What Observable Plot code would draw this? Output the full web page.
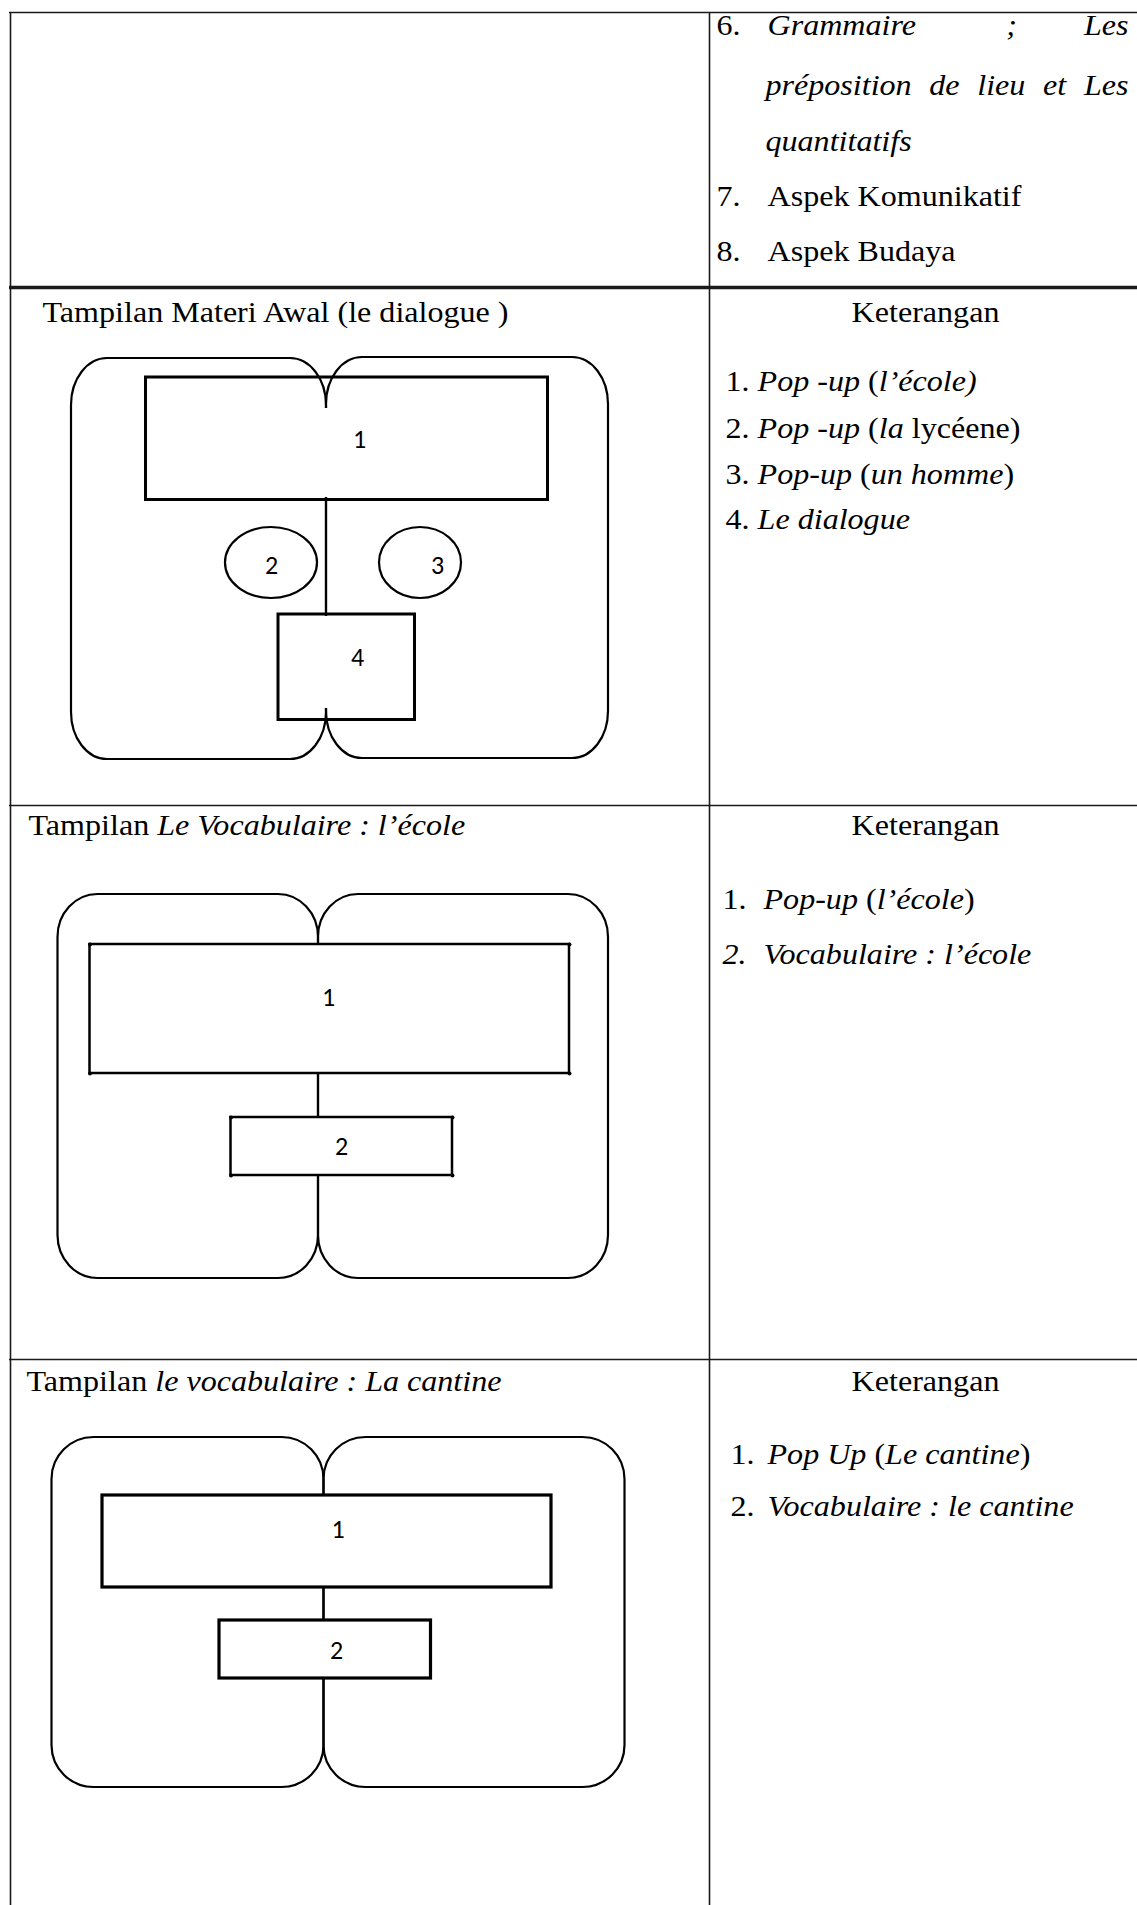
<!DOCTYPE html>
<html>
<head>
<meta charset="utf-8">
<script src="https://cdn.jsdelivr.net/npm/d3@7"></script>
<script src="https://cdn.jsdelivr.net/npm/@observablehq/plot@0.6"></script>
<style>
  html, body { margin: 0; padding: 0; background: #fff; }
  #chart svg { display: block; }
</style>
</head>
<body>
<div id="chart"></div>
<script>
// ---------------- content (text) ----------------
const row1Numbers = ["6.", "", "", "7.", "8."];
const row1FirstLine = ["*Grammaire*", "*;*", "*Les*"];
const row1Lines = ["", "*préposition de lieu et Les*", "*quantitatifs*", "Aspek Komunikatif", "Aspek Budaya"];
const row1Justify = [false, true, false, false, false];

const sectionTitles = ["Tampilan Materi Awal (le dialogue )", "Tampilan *Le Vocabulaire : l’école*", "Tampilan *le vocabulaire : La cantine*"];
const sectionHeader = "Keterangan";

const items1 = ["1. *Pop -up* (*l’école)*", "2. *Pop -up* (*la* lycéene)", "3. *Pop-up* (*un homme*)", "4. *Le dialogue*"];
const items2Num = ["1.", "*2.*"];
const items2Text = ["*Pop-up* (*l’école*)", "*Vocabulaire : l’école*"];
const items3Num = ["1.", "2."];
const items3Text = ["*Pop Up* (*Le cantine*)", "*Vocabulaire : le cantine*"];

const diagramLabels = [["1", "2", "3", "4"], ["1", "2"], ["1", "2"]];

// ---------------- layout (page geometry, px) ----------------
const W = 1137, H = 1905;
const tableLeft = 10, tableTop = 12, dividerX = 709;
const rowLineY = [287, 805, 1359];
const rowLineW = [3.5, 1.6, 1.6];

const r1NumX = 716;
const r1TextX = [767, 765, 765, 767, 767];
const r1Base = [34, 94, 150, 205, 260];
const r1FirstX = [767, 1011, 1128];
const r1FirstAnchor = ["start", "middle", "end"];
const justifyRight = 1128;

const titleX = [42, 28, 26];
const titleBase = [321, 834, 1390];
const headerX = 925;
const items1X = 725, items1Base = [390, 437, 483, 528];
const items2NumX = 722, items2TextX = 763, items2Base = [908, 963];
const items3NumX = 730, items3TextX = 767, items3Base = [1463, 1515];

// diagram lobes: [x1, x2, y1, y2]
const lobes1 = [[71, 326, 358, 759], [326, 608, 357, 758]];
const lobes2 = [[57.5, 318, 894, 1278], [318, 608, 894, 1278]];
const lobes3 = [[51.5, 323.5, 1437, 1787], [323.5, 624.5, 1437, 1787]];
const lobeRadius = [[36, 47], [40, 43], [42, 42]];
// boxes: [x1, x2, y1, y2]
const boxes1 = [[145.5, 547.5, 377, 499.5], [278, 414.5, 614, 719.5]];
const boxes2 = [[89.5, 569, 944, 1073], [230.5, 452, 1117, 1175]];
const boxes3 = [[102, 551, 1495, 1587], [219, 430.5, 1620, 1678]];
const ellipses1 = [[225, 317, 527, 598], [379, 461, 527, 598]];
// hidden parts of the centre line of diagram 1: [x, y1, y2]
const masks1 = [[326, 408, 497], [326, 616, 708]];
// label positions [x, y]
const labelPos = [[[359, 439], [271, 565], [437, 565], [357, 657]], [[328, 997], [341, 1146]], [[337.5, 1529], [336, 1650]]];

// ---------------- build ----------------
const serif = "'Liberation Serif', 'Times New Roman', serif";
const FS = 30;
const SX = 1.07;
const toRect = ([x1, x2, y1, y2]) => ({x1, x2, y1, y2});

const hLines = [{y: tableTop, w: 1.6}].concat(rowLineY.map((y, i) => ({y, w: rowLineW[i]})));
const vLines = [{x: tableLeft}, {x: dividerX}];

const marks = [];
marks.push(Plot.ruleY(hLines, {y: "y", x1: tableLeft - 1, x2: W, strokeWidth: "w", stroke: "#1a1a1a"}));
marks.push(Plot.ruleX(vLines, {x: "x", y1: tableTop, y2: H, strokeWidth: 1.6, stroke: "#1a1a1a"}));

// row 1 texts
const textOpts = {x: "x", y: "y", text: "t", fontFamily: serif, fontSize: FS, textAnchor: "start", lineAnchor: "bottom", fill: "#000"};
const r1Nums = row1Numbers.map((t, i) => ({t, x: r1NumX, y: r1Base[i]})).filter(d => d.t);
const r1Plain = row1Lines.map((t, i) => ({t, x: r1TextX[i], y: r1Base[i], j: row1Justify[i]})).filter(d => d.t);
const justTargets = new Map(r1Plain.filter(d => d.j).map(d => [d.t.replace(/\*/g, ""), justifyRight - d.x]));
marks.push(Plot.text(r1Nums, textOpts));
marks.push(Plot.text(r1Plain, textOpts));
["start", "middle", "end"].forEach(anchor => {
  const pieces = row1FirstLine.map((t, i) => ({t, x: r1FirstX[i], y: r1Base[0], a: r1FirstAnchor[i]})).filter(d => d.a === anchor);
  marks.push(Plot.text(pieces, {...textOpts, textAnchor: anchor}));
});

// titles & headers
marks.push(Plot.text(sectionTitles.map((t, i) => ({t, x: titleX[i], y: titleBase[i]})), textOpts));
marks.push(Plot.text(titleBase.map(y => ({t: sectionHeader, x: headerX, y})), {...textOpts, textAnchor: "middle"}));

// item lists
const itemsData = [
  ...items1.map((t, i) => ({t, x: items1X, y: items1Base[i]})),
  ...items2Num.map((t, i) => ({t, x: items2NumX, y: items2Base[i]})),
  ...items2Text.map((t, i) => ({t, x: items2TextX, y: items2Base[i]})),
  ...items3Num.map((t, i) => ({t, x: items3NumX, y: items3Base[i]})),
  ...items3Text.map((t, i) => ({t, x: items3TextX, y: items3Base[i]}))
];
marks.push(Plot.text(itemsData, textOpts));

// diagrams
const lobeSets = [lobes1, lobes2, lobes3];
lobeSets.forEach((ls, k) => {
  marks.push(Plot.rect(ls.map(toRect), {x1: "x1", x2: "x2", y1: "y1", y2: "y2", rx: lobeRadius[k][0], ry: lobeRadius[k][1], fill: "none", stroke: "#000", strokeWidth: 2.2}));
});
// diagram 1: hide centre line inside boxes but keep cusps
marks.push(Plot.rect(masks1.map(([x, y1, y2]) => ({x1: x - 3, x2: x + 3, y1, y2})), {x1: "x1", x2: "x2", y1: "y1", y2: "y2", fill: "#fff"}));
marks.push(Plot.rect(boxes1.map(toRect), {x1: "x1", x2: "x2", y1: "y1", y2: "y2", fill: "none", stroke: "#000", strokeWidth: 3}));
marks.push(Plot.rect(ellipses1.map(toRect), {x1: "x1", x2: "x2", y1: "y1", y2: "y2", rx: 300, ry: 300, fill: "none", stroke: "#000", strokeWidth: 2.2}));
marks.push(Plot.rect(boxes2.map(toRect), {x1: "x1", x2: "x2", y1: "y1", y2: "y2", fill: "#fff", stroke: "#000", strokeWidth: 2.5}));
marks.push(Plot.dot(boxes2.flatMap(([x1, x2, y1, y2]) => [[x1, y1], [x2, y1], [x1, y2], [x2, y2]]), {x: d => d[0], y: d => d[1], r: 2, fill: "#000"}));
marks.push(Plot.rect(boxes3.map(toRect), {x1: "x1", x2: "x2", y1: "y1", y2: "y2", fill: "#fff", stroke: "#000", strokeWidth: 3.2}));

const labelData = diagramLabels.flatMap((ls, k) => ls.map((t, i) => ({t, x: labelPos[k][i][0], y: labelPos[k][i][1]})));
marks.push(Plot.text(labelData, {x: "x", y: "y", text: "t", fontFamily: "Carlito, Lato, 'Open Sans', sans-serif", fontSize: 26, fill: "#000"}));

const svg = Plot.plot({
  width: W,
  height: H,
  margin: 0,
  x: {domain: [0, W], range: [0, W], axis: null},
  y: {domain: [0, H], range: [0, H], axis: null},
  style: {background: "#fff"},
  marks
});
document.getElementById("chart").appendChild(svg);

// serif texts = all texts that are not the diagram number labels
const serifTexts = Array.from(svg.querySelectorAll("text")).filter(t => {
  const g = t.closest("g");
  const ff = (g && g.getAttribute("font-family")) || "";
  return ff.includes("Liberation") || (!ff.includes("Lato") && t.textContent.length > 1);
});

// italic markup -> tspans
serifTexts.forEach(t => {
  t.style.whiteSpace = "pre";
  const s = t.textContent;
  if (!s.includes("*")) return;
  const parts = s.split("*");
  t.textContent = "";
  parts.forEach((p, i) => {
    if (!p) return;
    const ts = document.createElementNS("http://www.w3.org/2000/svg", "tspan");
    if (i % 2 === 1) ts.setAttribute("font-style", "italic");
    ts.textContent = p;
    t.appendChild(ts);
  });
});
// slight horizontal widening of the serif text (as in the scanned page)
serifTexts.forEach(t => {
  const tr = t.getAttribute("transform");
  if (tr) t.setAttribute("transform", tr + ` scale(${SX},1)`);
});
// justified line of row 1
serifTexts.forEach(t => {
  const key = t.textContent;
  if (!justTargets.has(key)) return;
  const target = justTargets.get(key) / SX;
  const len = t.getComputedTextLength();
  const n = (key.match(/ /g) || []).length;
  if (n) t.style.wordSpacing = ((target - len) / n) + "px";
});
</script>
</body>
</html>
